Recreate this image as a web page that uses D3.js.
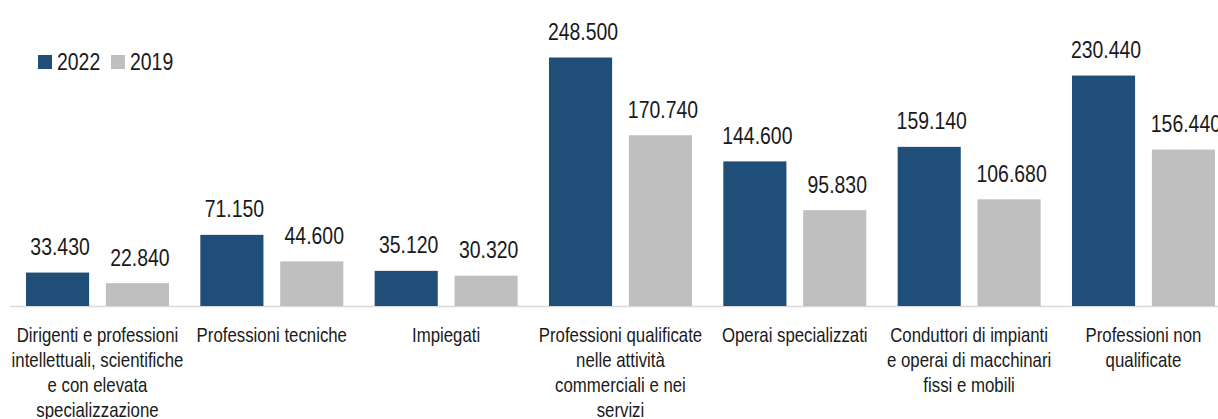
<!DOCTYPE html>
<html>
<head>
<meta charset="utf-8">
<script src="https://cdn.jsdelivr.net/npm/d3@7"></script>
<style>
  html, body { margin: 0; padding: 0; background: #fff; overflow: hidden; }
  text { font-family: "Liberation Sans", Arial, sans-serif; fill: #1a1a1a; }
</style>
</head>
<body>
<svg id="chart" width="1218" height="419"></svg>
<script>
const categories = [
  ["Dirigenti e professioni", "intellettuali, scientifiche", "e con elevata", "specializzazione"],
  ["Professioni tecniche"],
  ["Impiegati"],
  ["Professioni qualificate", "nelle attività", "commerciali e nei", "servizi"],
  ["Operai specializzati"],
  ["Conduttori di impianti", "e operai di macchinari", "fissi e mobili"],
  ["Professioni non", "qualificate"]
];
const values2022 = [33430, 71150, 35120, 248500, 144600, 159140, 230440];
const values2019 = [22840, 44600, 30320, 170740, 95830, 106680, 156440];
const seriesNames = ["2022", "2019"];
const colors = ["#1F4E79", "#BFBFBF"];

const NARROW = 0.82;
const svg = d3.select("#chart");
const baseY = 306;
const x = d3.scaleBand().domain(d3.range(categories.length)).range([10.3, 1230.6]).paddingInner(0).paddingOuter(0);
const xs = d3.scaleBand().domain([0, 1]).range([15.7, 158.7]).paddingInner(0.21).paddingOuter(0);
const y = d3.scaleLinear().domain([0, 250000]).range([baseY, 56]);

const series = [values2022, values2019];
const fmt = v => d3.format(",")(v).replace(/,/g, ".");

function narrowText(parent, cx, cy, size, anchor) {
  return parent.append("g").attr("transform", `translate(${cx},${cy}) scale(${NARROW},1)`)
    .append("text").attr("x", 0).attr("y", 0).attr("text-anchor", anchor).attr("font-size", size);
}

// axis line
svg.append("line").attr("x1", 10).attr("x2", 1218).attr("y1", baseY + 0.5).attr("y2", baseY + 0.5)
  .attr("stroke", "#D9D9D9").attr("stroke-width", 1.5);

series.forEach((vals, si) => {
  const g = svg.append("g");
  g.selectAll("rect").data(vals).enter().append("rect")
    .attr("x", (d, i) => x(i) + xs(si))
    .attr("width", xs.bandwidth())
    .attr("y", d => y(d))
    .attr("height", d => baseY - y(d))
    .attr("fill", colors[si]);
  vals.forEach((d, i) => {
    narrowText(g, x(i) + xs(si) + xs.bandwidth() / 2 + 2.5, y(d) - 17.5, 23.7, "middle").text(fmt(d));
  });
});

// category labels
const lab = svg.append("g");
categories.forEach((lines, i) => {
  const t = narrowText(lab, x(i) + x.bandwidth() / 2, baseY + 36, 20.5, "middle");
  lines.forEach((ln, j) => {
    t.append("tspan").attr("x", 0).attr("dy", j === 0 ? 0 : 25).text(ln);
  });
});

// legend
const legendX = [38, 111];
seriesNames.forEach((name, i) => {
  svg.append("rect").attr("x", legendX[i]).attr("y", 55).attr("width", 14).attr("height", 14).attr("fill", colors[i]);
  narrowText(svg, legendX[i] + 19, 70, 23.7, "start").text(name);
});
</script>
</body>
</html>
